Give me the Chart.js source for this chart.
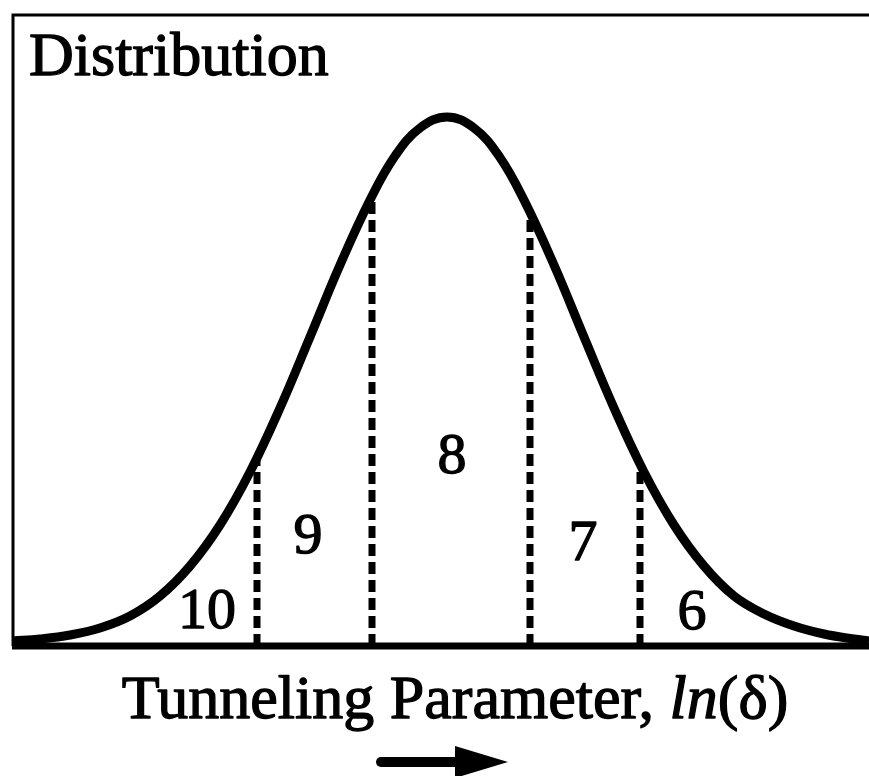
<!DOCTYPE html>
<html>
<head>
<meta charset="utf-8">
<script src="https://cdn.jsdelivr.net/npm/chart.js@4.4.1/dist/chart.umd.min.js"></script>
<style>
  html, body { margin: 0; padding: 0; background: #fff; }
</style>
</head>
<body>
<canvas id="chart" width="869" height="776"></canvas>
<script>
// bell curve: horizontal position, height above the baseline
const curveX = [13, 40, 70, 100, 130, 160, 190, 220, 250, 280, 310, 340, 370, 395, 420, 447,
                474, 499, 524, 554, 584, 614, 644, 674, 704, 734, 764, 794, 824, 854, 869];
const curveY = [5, 7, 11, 18, 30, 50, 80, 121, 174, 238, 309, 381, 446, 490, 518, 529,
                518, 490, 446, 381, 309, 238, 174, 121, 80, 50, 32, 20, 12, 7, 5];

// dashed cuts between the regions
const cutX = [257, 372, 530, 640];
const cutTop = [188, 448, 436, 183];

// region numbers
const regionLabels = ['10', '9', '8', '7', '6'];
const labelX = [207, 308, 452, 583, 692];
const labelY = [18, 93, 173, 86, 17];

const yTitle = 'Distribution';
const xTitle = ['Tunneling Parameter, ', 'ln', '(\u03b4)'];

const serif = '"Liberation Serif", "Times New Roman", serif';

const datasets = [{
  data: curveX.map((x, i) => ({ x: x, y: curveY[i] })),
  borderColor: '#000',
  borderWidth: 9,
  pointRadius: 0,
  tension: 0.4,
  fill: false,
}];
cutX.forEach((x, i) => {
  datasets.push({
    data: [{ x: x, y: 0 }, { x: x, y: cutTop[i] }],
    borderColor: '#000',
    borderWidth: 7,
    borderDash: [12, 6],
    pointRadius: 0,
    fill: false,
  });
});

// heavier text, like the scanned original
function heavyText(ctx, t, x, y) {
  ctx.fillText(t, x, y);
  ctx.strokeText(t, x, y);
}

const decorations = {
  id: 'decorations',
  afterDatasetsDraw(chart) {
    const { ctx, chartArea, scales } = chart;
    const { left, right, top, bottom } = chartArea;
    ctx.save();
    ctx.strokeStyle = '#000';
    ctx.fillStyle = '#000';

    // frame: thin top and left, heavy baseline
    ctx.lineWidth = 3;
    ctx.beginPath();
    ctx.moveTo(left, bottom);
    ctx.lineTo(left, top);
    ctx.lineTo(right, top);
    ctx.stroke();
    ctx.lineWidth = 7;
    ctx.beginPath();
    ctx.moveTo(left - 1, bottom);
    ctx.lineTo(right, bottom);
    ctx.stroke();

    ctx.lineWidth = 1.3;
    ctx.lineJoin = 'round';

    // y label inside the box
    ctx.font = '62px ' + serif;
    ctx.textBaseline = 'alphabetic';
    ctx.textAlign = 'left';
    heavyText(ctx, yTitle, left + 16, top + 60);

    // region numbers
    ctx.font = '58px ' + serif;
    ctx.textAlign = 'center';
    regionLabels.forEach((t, i) => {
      heavyText(ctx, t, scales.x.getPixelForValue(labelX[i]), scales.y.getPixelForValue(labelY[i]));
    });

    // x title with italic "ln"
    ctx.textAlign = 'left';
    const fonts = ['62px ' + serif, 'italic 62px ' + serif, '62px ' + serif];
    let total = 0;
    const widths = xTitle.map((t, i) => {
      ctx.font = fonts[i];
      const w = ctx.measureText(t).width;
      total += w;
      return w;
    });
    let x = 455 - total / 2;
    xTitle.forEach((t, i) => {
      ctx.font = fonts[i];
      heavyText(ctx, t, x, bottom + 72);
      x += widths[i];
    });

    // arrow
    const ay = bottom + 116;
    ctx.lineWidth = 10;
    ctx.lineCap = 'round';
    ctx.beginPath();
    ctx.moveTo(381, ay);
    ctx.lineTo(460, ay);
    ctx.stroke();
    ctx.beginPath();
    ctx.moveTo(455, ay - 16);
    ctx.lineTo(508, ay);
    ctx.lineTo(455, ay + 16);
    ctx.closePath();
    ctx.fill();
    ctx.restore();
  }
};

new Chart(document.getElementById('chart').getContext('2d'), {
  type: 'line',
  data: { datasets: datasets },
  options: {
    responsive: false,
    animation: false,
    layout: { padding: { left: 13, top: 15, right: 0, bottom: 130 } },
    scales: {
      x: { type: 'linear', min: 13, max: 869, display: false },
      y: { min: 0, max: 631, display: false },
    },
    plugins: {
      legend: { display: false },
      tooltip: { enabled: false },
    },
  },
  plugins: [decorations],
});
</script>
</body>
</html>
